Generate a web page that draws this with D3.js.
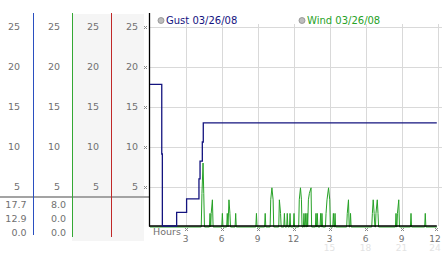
<!DOCTYPE html>
<html><head><meta charset="utf-8">
<script src="https://cdn.jsdelivr.net/npm/d3@7"></script>
<style>body{margin:0;background:#fff;}svg{display:block;font-family:"DejaVu Sans",sans-serif;}</style>
</head><body>
<script>
// ---- data ----
const yTicks = [5, 10, 15, 20, 25];
const xTickHours = [3, 6, 9, 12, 15, 18, 21, 24];
const xTickLabels = ["3", "6", "9", "12", "3", "6", "9", "12"];
const xTickLabels2 = ["", "", "", "", "15", "18", "21", "24"];
const seriesNames = ["Gust 03/26/08", "Wind 03/26/08"];
const gustStats = ["17.7", "12.9", "0.0"];
const windStats = ["8.0", "0.0", "0.0"];
// gust (hours, mph) – step after
const gust = [[0,17.7],[0.98,9.0],[1.03,0],[2.22,1.7],[3.05,3.4],[4.08,5.9],[4.17,8.1],[4.36,10.5],[4.44,12.9],[23.9,12.9]];
// wind (hours, mph)
const wind = [[0,0],[4.27,0],[4.33,4.2],[4.42,8.0],[4.48,4.2],[4.54,0],
[4.95,0],[5.0,1.7],[5.06,0],[5.1,1.7],[5.2,3.4],[5.26,0],
[5.98,0],[6.03,1.7],[6.08,0],
[6.39,0],[6.44,1.7],[6.5,0],[6.58,3.4],[6.66,1.7],[6.71,0],
[7.09,0],[7.14,1.7],[7.19,0],
[8.82,0],[8.87,1.7],[8.92,0],
[9.55,0],[9.6,1.7],[9.65,0],
[10.01,0],[10.06,3.4],[10.16,4.9],[10.26,3.4],[10.31,0],
[10.73,0],[10.78,3.4],[10.88,1.7],[10.93,0],
[11.15,0],[11.2,1.7],[11.25,0],[11.39,0],[11.44,1.7],[11.49,0],[11.62,0],[11.67,1.7],[11.72,0],
[11.95,0],[12.0,1.7],[12.05,0],
[12.39,0],[12.44,3.4],[12.54,4.9],[12.62,3.4],[12.67,0],
[12.78,0],[12.83,1.7],[12.88,0],[12.93,0],[12.98,1.7],[13.03,0],[13.06,0],[13.1,1.7],[13.14,0],
[13.2,3.4],[13.28,4.2],[13.42,4.9],[13.47,0],
[13.78,0],[13.83,1.7],[13.88,0],[13.9,0],[13.94,1.7],[13.99,0],
[14.17,0],[14.22,1.7],[14.27,0],[14.29,0],[14.33,1.7],[14.38,0],
[14.62,0],[14.67,1.7],[14.75,3.4],[14.88,4.9],[14.98,3.4],[15.03,0],
[15.23,0],[15.28,1.7],[15.33,0],[15.37,0],[15.42,1.7],[15.47,0],
[16.39,0],[16.44,1.7],[16.54,3.4],[16.6,0],[16.66,0],[16.71,1.7],[16.76,0],
[18.48,0],[18.53,1.7],[18.6,3.4],[18.68,1.7],[18.74,0],[18.79,0],[18.83,1.7],[18.94,3.4],[19.0,1.7],[19.05,0],
[20.45,0],[20.5,1.7],[20.55,0],[20.58,0],[20.62,1.7],[20.73,3.4],[20.79,0],
[21.7,0],[21.75,1.7],[21.8,0],
[22.89,0],[22.94,1.7],[22.99,0],
[23.9,0]];

// ---- layout ----
const W = 442, H = 253;
const svg = d3.select("body").append("svg").attr("width", W).attr("height", H);
const x = d3.scaleLinear().domain([0, 24]).range([150, 438]);
const y = d3.scaleLinear().domain([0, 25]).range([226.5, 26.5]);

const gustColor = "#14147f", windColor = "#27a227";
const textGray = "#707070";

// left panel backgrounds
svg.append("rect").attr("x", 72).attr("y", 14).attr("width", 39).attr("height", 227).attr("fill", "#f5f5f5");
svg.append("rect").attr("x", 111).attr("y", 14).attr("width", 33).attr("height", 227).attr("fill", "#f5f5f5");

// left column tick labels
const colRight = [20, 60, 99, 138];
colRight.forEach(cx => {
  svg.append("g").selectAll("text").data(yTicks).join("text")
    .attr("x", cx).attr("y", d => y(d) + 3.5)
    .attr("text-anchor", "end").attr("font-size", 9.5).attr("fill", textGray)
    .text(d => d);
});

// separator line
svg.append("line").attr("x1", 0).attr("x2", 149).attr("y1", 197).attr("y2", 197)
  .attr("stroke", "#a3a3a3").attr("stroke-width", 2);

// column vertical lines
[[33.5, "#2a4fc0", 235], [72.5, "#34a834", 237], [111.5, "#c02828", 237]].forEach(([lx, c, yb]) => {
  svg.append("line").attr("x1", lx).attr("x2", lx).attr("y1", 13).attr("y2", yb)
    .attr("stroke", c).attr("stroke-width", 1);
});

// stats
const rowsY = [207.5, 221.5, 236];
svg.append("g").selectAll("text").data(gustStats).join("text")
  .attr("x", 26.5).attr("y", (d, i) => rowsY[i]).attr("text-anchor", "end")
  .attr("font-size", 9.5).attr("fill", textGray).text(d => d);
svg.append("g").selectAll("text").data(windStats).join("text")
  .attr("x", 66).attr("y", (d, i) => rowsY[i]).attr("text-anchor", "end")
  .attr("font-size", 9.5).attr("fill", textGray).text(d => d);

// grid
svg.append("g").selectAll("line").data(yTicks).join("line")
  .attr("x1", 150).attr("x2", W).attr("y1", d => Math.round(y(d)) + 0.5).attr("y2", d => Math.round(y(d)) + 0.5)
  .attr("stroke", "#d9d9d9").attr("stroke-width", 1);
svg.append("g").selectAll("line").data(xTickHours).join("line")
  .attr("x1", d => Math.round(x(d)) + 0.5).attr("x2", d => Math.round(x(d)) + 0.5)
  .attr("y1", 24).attr("y2", 226)
  .attr("stroke", "#d9d9d9").attr("stroke-width", 1);

// small checker tick marks
function mark(cx, cy) {
  const g = svg.append("g").attr("fill", "#8a8a8a");
  [[-1,-1],[1,-1],[0,0],[-1,1],[1,1]].forEach(([dx, dy]) => {
    g.append("rect").attr("x", cx + dx).attr("y", cy + dy).attr("width", 1).attr("height", 1);
  });
}
yTicks.forEach(t => mark(145, Math.round(y(t))));
xTickHours.forEach(t => mark(Math.min(Math.round(x(t)), 436), 229));

// series lines
const windLine = d3.line().x(d => x(d[0])).y(d => y(d[1]) + 0.5);
svg.append("path").datum(wind).attr("d", windLine).attr("fill", "none")
  .attr("stroke", windColor).attr("stroke-width", 1);

// axes (black)
svg.append("line").attr("x1", 149.5).attr("x2", 149.5).attr("y1", 13).attr("y2", 226.5)
  .attr("stroke", "#000").attr("stroke-width", 1.3);
svg.append("line").attr("x1", 149).attr("x2", x(23.9)).attr("y1", 226).attr("y2", 226)
  .attr("stroke", "#000").attr("stroke-width", 1.3);

const gustLine = d3.line().x(d => x(d[0])).y(d => y(d[1]) - 0.5).curve(d3.curveStepAfter);
svg.append("path").datum(gust).attr("d", gustLine).attr("fill", "none")
  .attr("stroke", gustColor).attr("stroke-width", 1.3);

// x labels
const labelX = d => Math.min(x(d) - 0.5, 435);
svg.append("text").attr("x", 153).attr("y", 235).attr("font-size", 9.5).attr("fill", textGray).text("Hours");
svg.append("g").selectAll("text").data(xTickHours).join("text")
  .attr("x", labelX).attr("y", 241.5).attr("text-anchor", "middle")
  .attr("font-size", 9).attr("fill", textGray).text((d, i) => xTickLabels[i]);
svg.append("g").selectAll("text").data(xTickHours).join("text")
  .attr("x", labelX).attr("y", 250.5).attr("text-anchor", "middle")
  .attr("font-size", 9).attr("fill", "#e3e3e3").text((d, i) => xTickLabels2[i]);

// legend
const legendX = [161, 302];
const legendColors = [gustColor, windColor];
seriesNames.forEach((n, i) => {
  svg.append("circle").attr("cx", legendX[i]).attr("cy", 20.5).attr("r", 3)
    .attr("fill", "#bdbdbd").attr("stroke", "#8c8c8c").attr("stroke-width", 0.8);
  svg.append("text").attr("x", legendX[i] + 5).attr("y", 24).attr("font-size", 10)
    .attr("fill", legendColors[i]).text(n);
});
</script>
</body></html>
